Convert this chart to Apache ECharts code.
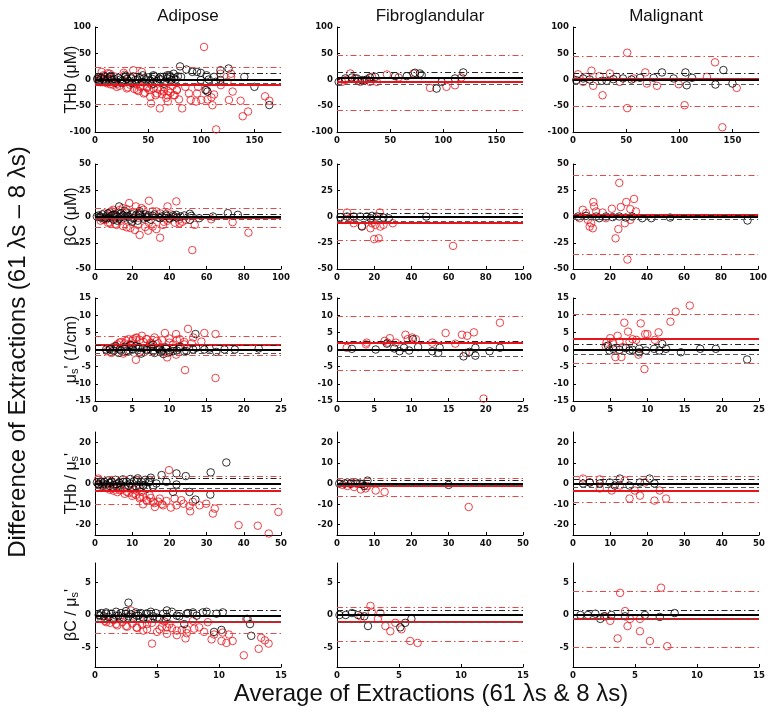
<!DOCTYPE html>
<html><head><meta charset="utf-8">
<script src="https://cdn.jsdelivr.net/npm/echarts@6/dist/echarts.min.js"></script>
<style>html,body{margin:0;padding:0;background:#fff}#c{width:770px;height:715px}</style>
</head><body><div id="c"></div>
<script>
const columnTitles = ['Adipose', 'Fibroglandular', 'Malignant'];
const rowLabels = ['{n|THb (μM)}', '{n|βC (μM)}', '{n|μ}{s|s}{n|\' (1/cm)}', '{n|THb / μ}{s|s}{n|\'}', '{n|βC / μ}{s|s}{n|\'}'];
const yTitle = 'Difference of Extractions (61 λs – 8 λs)';
const xTitle = 'Average of Extractions (61 λs & 8 λs)';

// ---- Row 1: THb ----
const thb_adi_red = [[102.6,62],[52.7,-45.6],[61,-55],[82,-55],[68.5,-42],[114,-95],[139,-70],[144,-61],[137,-40.5],[160,-32],[164,-40.5],[126,-39],[129.5,-23],[110.5,-49],[105.8,-38],[100,-39],[95,-42],[90,-39],[88.4,-26.6],[96,-26.6],[109.6,-34],[112,-28.5],[97,-14],[105,-20],[118.4,-10.8],[128,5],[124.6,-4.4],[74,-30],[61.6,-20],[77,-20],[85,-14],[45.8,-26.6],[39.5,-20],[30,-17],[20.5,-14],[14.2,-9],[49,-14],[55,-17],[58.4,-26.6],[64.7,-23],[68,-30],[52,-33],[42.6,-14],[6.3,14.5],[14,11],[27,12.7],[36,17.7],[44,14.5],[5,5],[118,11],[128,11],[3,-3],[7,-5],[11,-7],[13,2],[17,-10],[21,-8],[23,-12],[27,-6],[31,-15],[33,-10],[37,-18],[39,-9],[41,-22],[43,-12],[47,-25],[49,-16],[51,-20],[53,-10],[57,-30],[59,-18],[63,-28],[65,-15],[67,-35],[69,-22],[71,-25],[73,-12],[75,-30],[77,-20],[79,-38],[8,8],[12,12],[18,6],[28,9],[34,4],[5,2]];
const thb_adi_blk = [[164,-48.7],[80,25],[86,19],[91.5,14.5],[96,14.5],[99.5,12.7],[105,8],[112,5],[118,17.7],[125.7,21],[140.5,5],[150,-14],[104,-20],[105.8,-23],[113.7,-4.4],[81,5],[74,11],[71,5],[68,8],[61.6,5],[55,8],[99.5,-1],[107,0],[118,-1],[2,1],[4,-2],[6,3],[8,0],[10,-3],[12,2],[14,5],[16,-1],[18,1],[20,-4],[22,3],[24,0],[26,-2],[28,4],[30,1],[32,-3],[34,2],[36,6],[38,-1],[40,0],[42,3],[44,-5],[46,2],[48,0],[50,4],[52,-2],[54,1],[56,6],[58,-3],[60,2],[62,0],[64,5],[66,-4],[68,2],[70,8],[72,-1],[74,3],[76,0],[78,6],[5,-5],[15,7],[25,-6],[35,-7],[45,8],[55,-8],[65,-8],[3,4],[9,6],[19,-6],[29,7]];
const thb_adi_blkLines = [0, 11.4, -7.6];
const thb_adi_redLines = [-10.8, 22.8, -46.8];

const thb_fib_red = [[4.7,-4.5],[12.5,11.5],[17,2],[26.5,-1.3],[33,5],[37.5,-4.5],[47,9.6],[58,3.8],[72,11.5],[87.5,-16],[103,-14],[111,-11],[117,3.8],[7.8,-1.3],[22,-4.5],[31,-4.5]];
const thb_fib_blk = [[7.8,2],[14,3.8],[18.7,2],[23.4,-1.3],[28,0],[31,3.8],[36,5],[54.7,6.4],[65.6,6.4],[73.4,12.8],[78,11.5],[79.7,8.3],[93.7,-17.3],[98.4,-4.5],[111,2],[118.8,13.5],[1.6,-4.5],[20,-2.6]];
const thb_fib_blkLines = [3.2, 13.5, -9];
const thb_fib_redLines = [-4.5, 46.8, -59];

const thb_mal_red = [[51,51],[51,-54.5],[27.8,-30],[17.4,16.7],[19,-12],[34.7,11.5],[68,13.5],[79,-12],[99.5,-9],[105,-49],[133.6,32.7],[140.5,-91],[154,-16],[126,5],[4.7,10],[9.5,-4.5],[44,-4.5],[57,2],[69.5,-7.7],[41,5],[25,6.4],[12.6,5]];
const thb_mal_blk = [[83.7,13.5],[105.8,13.5],[107,-11],[134,-9.6],[141.5,18],[150,-7.7],[112,3.2],[94.7,2],[75.8,3.2],[63,3.2],[55,0],[47,2],[38,0.6],[27,-2.6],[15.8,0],[9.5,2],[3,-1.3],[31.6,-2.6]];
const thb_mal_blkLines = [0, 11.5, -9.6];
const thb_mal_redLines = [1.3, 45, -50.6];

// ---- Row 2: betaC ----
const bc_adi_red = [[82.5,-15.4],[52.3,-32],[35,-20.2],[24,-17.6],[28.6,-13.5],[29,15],[18.4,12.8],[43.7,14.4],[39,9.6],[53.6,-8],[62.5,-2.6],[74,-5.4],[21.4,-12.8],[17,-10.3],[11.6,-8],[31,-9.6],[36.6,-8],[45.5,-6.4],[8,-5.8],[4.5,-3.2],[15,8],[22,9.6],[26,6.4],[9.8,6.4],[33,4.8],[40,-1.6],[49,-3.2],[3,-4],[5,3],[7,-6],[9,5],[11,-7],[13,6],[15,-9],[17,7],[19,-11],[21,4],[23,-8],[25,8],[27,-10],[29,-6],[31,5],[33,-12],[35,3],[37,-5],[39,-4],[41,2],[43,-6],[45,-3],[47,-5],[6,-3],[10,2],[14,-4]];
const bc_adi_blk = [[13,9.6],[71.4,3.2],[76.8,1.6],[63.4,0],[51,2.6],[43.7,1.6],[2.7,0],[6.25,-1.6],[9.8,1.6],[13.4,-0.6],[17,0.6],[20.5,-1.6],[24,1.6],[27.7,-0.6],[31,0.6],[35,-1.6],[38.4,0.6],[42,-0.6],[51,-3.2],[56,-1.6],[51.8,0.6],[1,0],[2,1],[3,-1],[4,2],[5,-2],[6,0],[7,3],[8,-1],[9,1],[10,-3],[11,2],[12,0],[13,-2],[14,3],[15,1],[16,-1],[17,4],[18,0],[19,-3],[20,2],[21,-1],[22,1],[23,-4],[24,3],[25,0],[26,-2],[27,2],[28,-1],[29,1],[30,-3],[32,2],[34,-1],[36,0],[38,2],[40,-2],[42,1],[44,-1],[46,0],[48,1],[8,4],[12,-4],[16,5],[20,-5],[24,5]];
const bc_adi_blkLines = [0, 2.2, -2.6];
const bc_adi_redLines = [-1, 7.7, -10.3];

const bc_fib_red = [[62.4,-28],[20,-21.5],[22.4,-20.8],[23,3.8],[30,-6.4],[23.3,-9.6],[20.6,-8],[13.4,-9],[9,-6.4],[4.5,-3.2],[5.4,3.8],[18.8,-6.4],[25,-8],[7,-1.6],[18,-11.2]];
const bc_fib_blk = [[48,0],[27.8,-1.6],[18.8,0.6],[18,-1.6],[13.4,-9.6],[12.5,0],[5.4,0],[1.8,-0.6],[9,0],[16,0],[21.5,0],[25,-1]];
const bc_fib_blkLines = [0, 3.2, -4.8];
const bc_fib_redLines = [-6.4, 7, -23];

const bc_mal_red = [[25,32],[29.4,-41],[23,-20.8],[24.5,-12],[25.8,9],[21,7.4],[28.8,13.8],[33,16.7],[31,7],[34,4.8],[28,-6.4],[31,-3.2],[11,13.8],[11.4,9.6],[12.5,4.8],[9.8,-6.4],[10.7,-11.2],[9,-9.6],[5.3,6.4],[7,3.2],[16,3.8],[17.8,-1.6],[3.5,-1.6],[8,-3.2]];
const bc_mal_blk = [[94.3,-3.8],[52.5,-1],[42.3,-1.6],[37.4,-1.6],[32,0],[25,0],[17.8,0],[12.5,0],[7,0.6],[2.7,0],[28.5,-1],[21.4,-0.6],[14.2,-1.6]];
const bc_mal_blkLines = [0, 1.6, -2.6];
const bc_mal_redLines = [1.6, 39, -36];

// ---- Row 3: mu_s' ----
const mus_adi_red = [[25.1,-5.3],[16.2,-8.3],[12.1,-6],[5.5,-3],[9.7,-2.3],[12.5,6],[14.7,4.8],[16.2,4.5],[9.4,4.8],[10.9,4.5],[14.3,2.3],[5.6,3.5],[6.9,3],[4.2,2.5],[3.3,2],[8.3,2.5],[11.4,3],[13.2,3.5],[2.2,-1],[1.6,-0.5],[10.9,-1.5],[5.1,3],[6.3,4],[4.7,1.5],[7.4,1.5],[8.7,0.5],[10,2],[12,1.5],[2.5,0.8],[3,1.5],[3.5,2.2],[4,1.8],[4.5,3],[5,2.5],[5.5,3.3],[6,2.8],[6.5,2.2],[7,3],[7.5,2],[8,3.5],[8.5,1.8],[9,2.7],[10,3.2],[10.5,1.5],[11,2.8],[12,2.2],[13,1.8],[3.8,-1.2],[6.6,-0.8],[9.8,-1]];
const mus_adi_blk = [[13.5,4.5],[22,0.3],[18.8,0],[17.4,0],[16.3,-0.7],[14.7,0],[13.2,0],[12.3,-0.5],[11.4,0.5],[10.5,-0.5],[8.7,0],[6.9,0],[5.1,0],[3.3,0],[2,0],[4.2,-0.5],[6,0.5],[7.8,-0.5],[9.6,0.3],[13.6,0.5],[15.4,0.3],[1.5,0],[2,0.3],[2.5,-0.4],[3,0.5],[3.5,-0.3],[4,0.8],[4.5,-0.6],[5,0.2],[5.5,1],[6,-0.8],[6.5,0.4],[7,-0.2],[7.5,0.9],[8,-1],[8.5,0.3],[9,-0.4],[9.5,0.6],[10,-0.7],[10.5,0.2],[11,-0.3],[11.5,0.8],[12,-0.6],[3.2,-1],[4.8,1.3],[6.2,-1.2],[7.8,1.4],[9.2,-1.3],[2.8,1],[5.8,0.7],[8.8,-0.8]];
const mus_adi_blkLines = [0, 1.3, -1.1];
const mus_adi_redLines = [1.3, 3.9, -1.6];

const mus_fib_red = [[1.3,0.5],[3.9,1.5],[4,2],[6.4,2.5],[7.1,3.3],[6.8,2],[9.2,4.3],[9.5,3],[10.1,3.5],[10.6,3],[12.8,2],[14.6,4.8],[15.9,1.7],[16.8,4.3],[17.5,4],[18.4,5],[21.9,7.8],[19.7,-14.3],[17.3,-1],[7.9,2]];
const mus_fib_blk = [[2,0.2],[5.2,0],[6.7,1.7],[7.7,0.3],[8.4,-0.5],[9,0.5],[9.7,-0.3],[10.2,3],[10.9,0.7],[12.8,-0.5],[13.8,0.5],[13.6,-1],[17,-2],[17.8,-0.7],[18.6,-1.8],[18.6,0.5],[20.5,-0.5],[21.9,0.5]];
const mus_fib_blkLines = [0, 2.3, -2];
const mus_fib_redLines = [2, 9.8, -6];

const mus_mal_red = [[15.7,12.8],[13.8,11],[13.1,8.1],[9.1,7.6],[6.9,7.8],[7.4,5.2],[11.5,5],[9.7,4.5],[10,4.5],[11,2.8],[9.6,-5.7],[5.7,-2.2],[6.5,-2.2],[8.8,-1.5],[5,3.3],[6,4],[6.25,2.3],[8,3],[7.6,2.3],[8.5,2.8],[4.5,2],[4.4,0.9],[5.4,1.8],[6.7,0.7]];
const mus_mal_blk = [[23.4,-2.9],[19.2,0.2],[17.1,0.2],[14.5,-0.8],[12.5,0.2],[11.6,-0.3],[10.9,0.2],[12,1.6],[9.8,-0.3],[8.9,0.2],[8,-0.1],[7.1,0.4],[6.25,-0.1],[5.4,0.2],[4.7,1.1],[4.9,-0.3],[8.9,-0.8],[7.6,-0.3]];
const mus_mal_blkLines = [0, 1.6, -1.4];
const mus_mal_redLines = [3, 10.2, -4.1];

// ---- Row 4: THb / mu_s' ----
const thbm_adi_red = [[49.3,-13.8],[46.7,-24.3],[43.75,-20.5],[38.6,-20.2],[32.2,-12.2],[31.7,-14.6],[28.1,-10.6],[25.6,-13.5],[25.4,-11],[23.8,-9.8],[21.9,-10.6],[20.4,-11.7],[19.9,6.5],[18.3,-10.6],[16.1,-11.4],[15.6,-8.9],[13.8,-8.1],[12.1,-6.5],[10.3,-4.9],[8.5,-4],[6.7,-3.3],[4.9,-2.4],[3.1,-1.6],[17.4,-7.3],[19.2,-8.5],[21.4,-7.3],[23.2,-8.1],[26.3,-8.9],[12.9,-10.1],[14.7,-5.7],[0.9,2.4],[11.2,-2.4],[29.9,-9.8],[1,-0.8],[2,-1.5],[3,-2.2],[4,-3],[5,-3.5],[6,-4.2],[7,-3],[8,-5],[9,-4.5],[10,-6],[11,-5.5],[12,-7.2],[13,-6.5],[14,-8.5],[15,-7],[16,-9.5],[17,-8.8],[18,-10],[2.5,0.8],[4.5,1],[6.5,0.5],[8.5,-2],[10.5,-3],[12.5,-4]];
const thbm_adi_blk = [[35.3,10.2],[31.1,5.4],[31,-5.4],[27,-7.8],[25.4,-4.1],[24.4,3.6],[21.9,4.9],[21.9,-0.5],[21,-4.1],[17.9,4.1],[16.5,0],[14.7,1.6],[12.9,-0.8],[11.2,1.6],[9.4,0],[7.6,0.8],[5.8,-0.3],[4,0.3],[2.2,0],[0.9,-0.3],[15.6,-1.6],[19.2,0.8],[0.5,0.5],[1,-0.5],[1.5,1],[2,-1],[2.5,0.8],[3,-0.6],[3.5,1.5],[4,-1.2],[4.5,0.6],[5,-0.8],[5.5,1.8],[6,-1.5],[6.5,0.4],[7,-0.7],[7.5,2],[8,-1.8],[8.5,0.9],[9,-1],[9.5,2.2],[10,-2],[10.5,1.2],[11,-1.3],[11.5,2.5],[12,-2.3],[12.5,0.7],[13,-1],[13.5,1.8],[14,-2.5],[14.5,0.6],[15,2.8]];
const thbm_adi_blkLines = [0, 2.4, -2.4];
const thbm_adi_redLines = [-3.3, 3.7, -10.2];

const thbm_fib_red = [[35.4,-11.4],[12.8,-4.1],[10.4,-3.4],[7.7,-2.4],[6.4,-2.9],[4.6,-1.7],[2.8,-1.2],[1.5,-0.7],[8.2,-1.2],[5.5,-0.3],[3.7,-0.3]];
const thbm_fib_blk = [[30,-0.7],[8.2,1.4],[7.3,-1.2],[6.2,0],[3.7,0],[2,0],[0.6,0],[5,0.5],[6.8,-0.3],[2.8,0.5]];
const thbm_fib_blkLines = [0, 1.7, -1];
const thbm_fib_redLines = [-1.2, 2.7, -6.4];

const thbm_mal_red = [[2.7,2.4],[7.2,2],[12.6,-1],[16.6,-3.4],[19.3,0.5],[23.3,-3.4],[25,-7.3],[21.9,-8.3],[18,-5.9],[15.2,-7.3],[10.4,-3.4],[7.2,-2.4],[4.5,0.5],[13.9,1.5]];
const thbm_mal_blk = [[2.7,0],[4.5,0.5],[7.2,0],[9.9,0.5],[12.6,2.4],[15.2,-1],[18,0.5],[20.6,2.4],[21.9,0],[11.2,-1]];
const thbm_mal_blkLines = [0, 2, -2];
const thbm_mal_redLines = [-3.4, 3.4, -9.3];

// ---- Row 5: betaC / mu_s' ----
const bcm_adi_red = [[12,-6.2],[13.2,-5.2],[13.4,-3.5],[13.7,-3.9],[14,-4.4],[4.6,-4.4],[7.3,-3.6],[9.4,-3.75],[10.2,-4],[10.6,-4.3],[10.8,-3],[11.1,-4],[10.3,-2.7],[9.6,-3],[8.4,-1.9],[7.4,-2.2],[6.6,-2.4],[5.8,-1.9],[5.2,-2.2],[3.9,-2.4],[3.35,-1.9],[2.5,-1.7],[1.7,-1.4],[0.9,-1.1],[4.2,-1.4],[6,-1.4],[7.9,-0.9],[9.1,-1.1],[2.9,0.7],[12.2,-0.6],[0.5,-0.6],[0.8,-0.9],[1.2,-1.2],[1.5,-0.8],[1.8,-1.6],[2.2,-1.1],[2.6,-1.8],[3,-1.3],[3.4,-2],[3.8,-1.5],[4.2,-2.2],[4.6,-1.2],[5,-2.6],[5.4,-1.8],[5.8,-2.9],[6.2,-2],[6.6,-3.1],[7,-2.3],[7.4,-2.8],[8,-2.1],[8.8,-2.6],[2,-0.4],[3.6,-0.6],[5.6,-1]];
const bcm_adi_blk = [[2.7,1.9],[12.5,-1.4],[12.6,-3.2],[9.6,-2.6],[10.2,-2.3],[10.3,0.4],[9.8,0.2],[8.7,0.4],[7.9,0.4],[7.4,0.2],[5.8,0.7],[5,-0.4],[4.2,0.2],[3.35,-0.1],[2.5,0.2],[1.7,-0.1],[0.9,0.2],[0.4,-0.1],[3.9,-0.6],[6.6,-0.1],[7.2,-1.4],[12.3,-0.6],[0.3,0],[0.5,0.3],[0.7,-0.2],[0.9,0.4],[1.1,-0.3],[1.3,0.2],[1.5,-0.5],[1.7,0.5],[1.9,-0.1],[2.1,0.3],[2.3,-0.4],[2.5,0.6],[2.7,-0.2],[2.9,0.1],[3.1,-0.5],[3.3,0.4],[3.5,-0.1],[3.7,0.3],[3.9,-0.4],[4.1,0.2],[4.3,-0.6],[4.5,0.5],[4.7,-0.2],[4.9,0.3],[5.2,-0.5],[5.5,0.2],[5.8,-0.3],[6.2,0.5],[6.8,-0.2],[7.5,0.3],[8.2,-0.1],[9,0.5]];
const bcm_adi_blkLines = [-0.1, 0.7, -0.9];
const bcm_adi_redLines = [-1, 0.8, -2.8];

const bcm_fib_red = [[2.8,0.5],[1.9,-0.2],[3.3,-0.6],[3.9,-1.7],[4.3,-2.5],[4.7,-1.2],[5.2,-2.2],[5.9,-4],[6.5,-4.3],[2.7,1.4],[3.5,0.3]];
const bcm_fib_blk = [[0.2,0],[0.7,0],[1.2,0.3],[1.7,0],[2.2,-0.2],[2.5,-1.7],[5.1,-1.9],[5.5,-1.2],[6,-0.6]];
const bcm_fib_blkLines = [0, 0.8, -1.1];
const bcm_fib_redLines = [-1.1, 1.2, -4];

const bcm_mal_red = [[7.1,4.2],[3.8,3.4],[4.2,0.6],[4.6,-0.6],[4.4,-1.7],[5.4,-2.5],[3.6,-3.6],[6.2,-4],[7.6,-4.8],[2.6,-0.2],[3,-0.9],[5.4,-0.6]];
const bcm_mal_blk = [[0.6,0],[1.2,0],[1.8,0.2],[2.5,-0.2],[3.1,0],[4.2,-0.2],[5.8,0],[7,-0.3],[8.2,0.3],[2.2,-0.6]];
const bcm_mal_blkLines = [0, 0.8, -0.6];
const bcm_mal_redLines = [-0.5, 3.6, -5];

const panelData = [
  [thb_adi_red, thb_adi_blk, thb_adi_redLines, thb_adi_blkLines],
  [thb_fib_red, thb_fib_blk, thb_fib_redLines, thb_fib_blkLines],
  [thb_mal_red, thb_mal_blk, thb_mal_redLines, thb_mal_blkLines],
  [bc_adi_red, bc_adi_blk, bc_adi_redLines, bc_adi_blkLines],
  [bc_fib_red, bc_fib_blk, bc_fib_redLines, bc_fib_blkLines],
  [bc_mal_red, bc_mal_blk, bc_mal_redLines, bc_mal_blkLines],
  [mus_adi_red, mus_adi_blk, mus_adi_redLines, mus_adi_blkLines],
  [mus_fib_red, mus_fib_blk, mus_fib_redLines, mus_fib_blkLines],
  [mus_mal_red, mus_mal_blk, mus_mal_redLines, mus_mal_blkLines],
  [thbm_adi_red, thbm_adi_blk, thbm_adi_redLines, thbm_adi_blkLines],
  [thbm_fib_red, thbm_fib_blk, thbm_fib_redLines, thbm_fib_blkLines],
  [thbm_mal_red, thbm_mal_blk, thbm_mal_redLines, thbm_mal_blkLines],
  [bcm_adi_red, bcm_adi_blk, bcm_adi_redLines, bcm_adi_blkLines],
  [bcm_fib_red, bcm_fib_blk, bcm_fib_redLines, bcm_fib_blkLines],
  [bcm_mal_red, bcm_mal_blk, bcm_mal_redLines, bcm_mal_blkLines]
];

// axis settings per row
const rowAxes = [
  {xmax:175, xint:50, ymin:-100, ymax:100, yvals:[-100,-50,0,50,100]},
  {xmax:100, xint:20, ymin:-50, ymax:50, yvals:[-50,-25,0,25,50]},
  {xmax:25, xint:5, ymin:-15, ymax:15, yvals:[-15,-10,-5,0,5,10,15]},
  {xmax:50, xint:10, ymin:-25, ymax:25, yvals:[-20,-10,0,10,20]},
  {xmax:15, xint:5, ymin:-8, ymax:8, yvals:[-5,0,5]}
];

const colLeft = [95, 337, 573];
const colW = 186;
const rowTop = [27, 164, 298, 432, 563];
const rowH = [105, 105, 103, 103, 104];

const tickFont = {fontFamily:"'Liberation Sans Narrow','DejaVu Sans Condensed',sans-serif", fontWeight:'bold', fontSize:9.5, color:'#111'};
const RED = '#e8141c', REDL = '#e24a4a', BLK = '#000';
const dashDot = [6,3,1.5,3];

const grids = [], xAxes = [], yAxes = [], series = [];
for (let r = 0; r < 5; r++) {
  for (let c = 0; c < 3; c++) {
    const i = r*3 + c;
    const ax = rowAxes[r];
    grids.push({left: colLeft[c], top: rowTop[r], width: colW, height: rowH[r], containLabel:false});
    xAxes.push({gridIndex:i, type:'value', min:0, max:ax.xmax, interval:ax.xint,
      axisLine:{show:true, onZero:false, lineStyle:{color:'#000', width:1}},
      axisTick:{show:true, inside:true, length:3, lineStyle:{color:'#000'}},
      axisLabel:Object.assign({margin:4, showMaxLabel: ax.xmax % ax.xint === 0}, tickFont),
      splitLine:{show:false}});
    yAxes.push({gridIndex:i, type:'value', min:ax.ymin, max:ax.ymax,
      axisLine:{show:true, onZero:false, lineStyle:{color:'#000', width:1}},
      axisTick:{show:true, inside:true, length:3, customValues:ax.yvals, lineStyle:{color:'#000'}},
      axisLabel:Object.assign({margin:4, customValues:ax.yvals}, tickFont),
      splitLine:{show:false}});
    const [red, blk, redL, blkL] = panelData[i];
    const mk = (color, width, type, v) => ({yAxis:v, lineStyle:{color:color, width:width, type:type}});
    series.push({type:'scatter', xAxisIndex:i, yAxisIndex:i, data:red, symbol:'circle', symbolSize:7.5,
      itemStyle:{color:'rgba(0,0,0,0)', borderColor:RED, borderWidth:1}, silent:true, z:2});
    series.push({type:'scatter', xAxisIndex:i, yAxisIndex:i, data:blk, symbol:'circle', symbolSize:7.5,
      itemStyle:{color:'rgba(0,0,0,0)', borderColor:BLK, borderWidth:1}, silent:true, z:3});
    series.push({type:'line', xAxisIndex:i, yAxisIndex:i, data:[], silent:true, z:4,
      markLine:{symbol:'none', silent:true, label:{show:false}, animation:false,
        data:[mk(RED,2,'solid',redL[0]), mk(REDL,1,dashDot,redL[1]), mk(REDL,1,dashDot,redL[2])]}});
    series.push({type:'line', xAxisIndex:i, yAxisIndex:i, data:[], silent:true, z:5,
      markLine:{symbol:'none', silent:true, label:{show:false}, animation:false,
        data:[mk(BLK,2,'solid',blkL[0]), mk('#222',1,dashDot,blkL[1]), mk('#555',1,[5,3],blkL[2])]}});
  }
}

const graphics = [];
columnTitles.forEach((t, c) => {
  graphics.push({type:'text', x: colLeft[c] + colW/2, y: 16, style:{text:t, align:'center', verticalAlign:'middle',
    font:"17px 'Liberation Sans', Arial, sans-serif", fill:'#111'}});
});
rowLabels.forEach((t, r) => {
  graphics.push({type:'text', x: 70, y: rowTop[r] + rowH[r]/2, rotation: Math.PI/2,
    style:{text:t, align:'center', verticalAlign:'middle', fill:'#111',
      rich:{n:{fontSize:16, fontFamily:"'Liberation Sans', Arial, sans-serif", lineHeight:20, verticalAlign:'bottom'},
            s:{fontSize:11, fontFamily:"'Liberation Sans', Arial, sans-serif", lineHeight:20, verticalAlign:'bottom'}}}});
});
graphics.push({type:'text', x: 18, y: 352, rotation: Math.PI/2,
  style:{text:yTitle, align:'center', verticalAlign:'middle', font:"24px 'Liberation Sans', Arial, sans-serif", fill:'#111'}});
graphics.push({type:'text', x: 431, y: 694,
  style:{text:xTitle, align:'center', verticalAlign:'middle', font:"24px 'Liberation Sans', Arial, sans-serif", fill:'#111'}});

const chart = echarts.init(document.getElementById('c'), null, {renderer:'canvas', width:770, height:715});
chart.setOption({animation:false, backgroundColor:'#fff', grid:grids, xAxis:xAxes, yAxis:yAxes, series:series, graphic:graphics});
</script></body></html>
